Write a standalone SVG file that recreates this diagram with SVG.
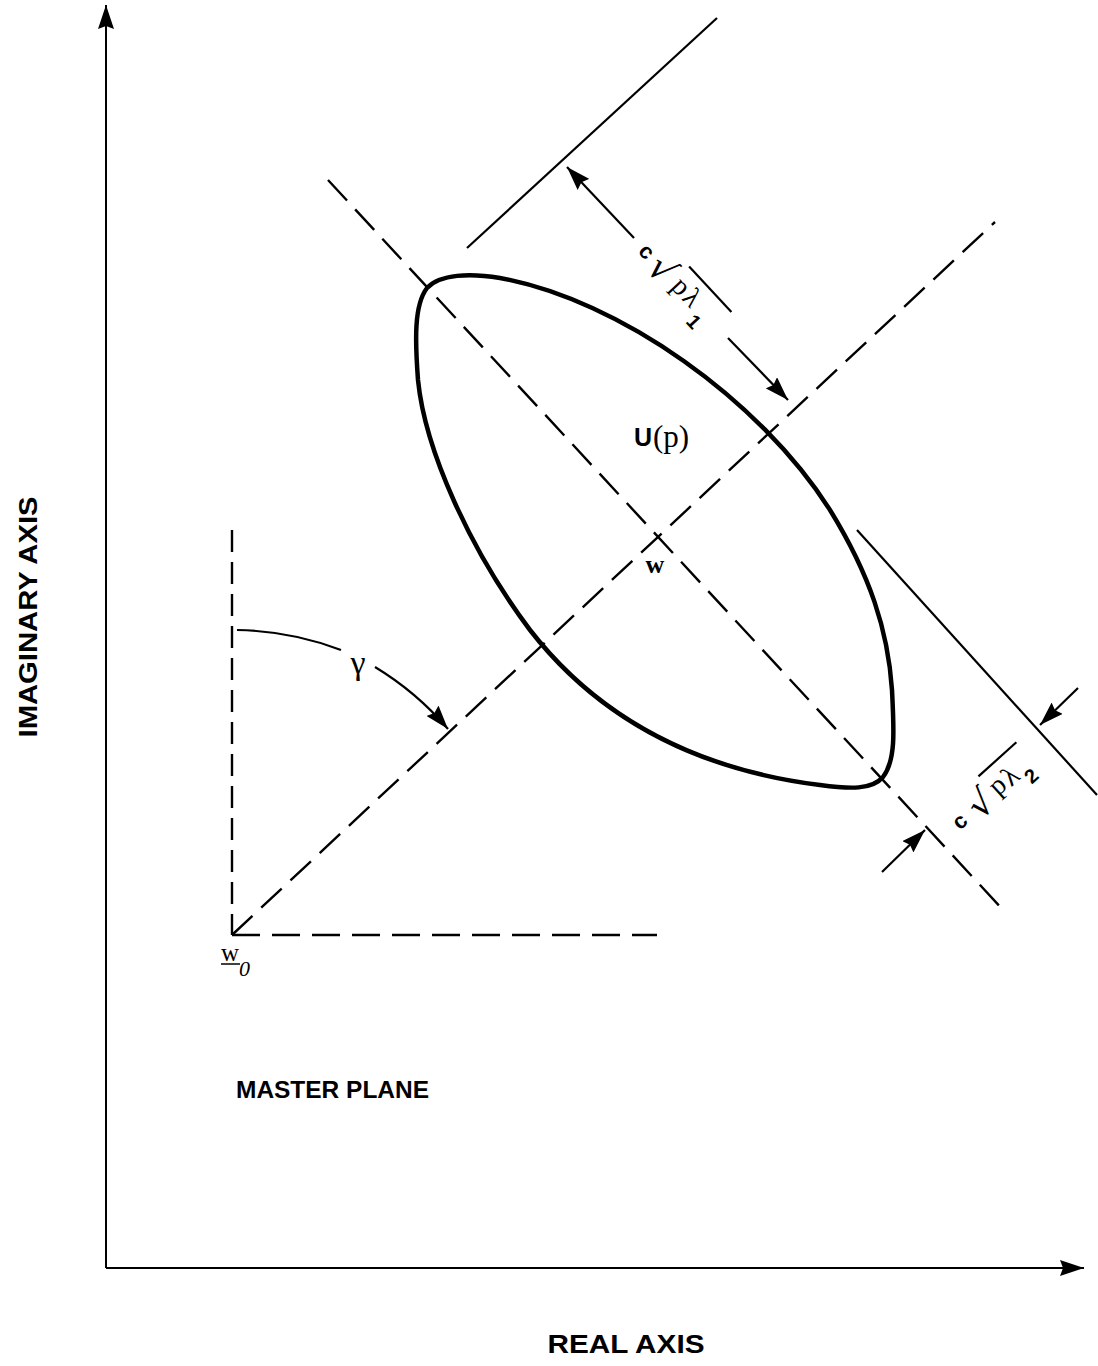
<svg xmlns="http://www.w3.org/2000/svg" width="1098" height="1366" viewBox="0 0 1098 1366">
<style>
.ax{stroke:#000;stroke-width:2;fill:none}
.dash{stroke:#000;stroke-width:2.4;fill:none;stroke-dasharray:28 12}
.solid{stroke:#000;stroke-width:2.2;fill:none}
.sans{font-family:"Liberation Sans",Arial,sans-serif;font-weight:bold;fill:#000}
.serif{font-family:"Liberation Serif","Times New Roman",serif;fill:#000}
</style>
<defs>
<marker id="ah" viewBox="0 0 24 16" refX="24" refY="8" markerWidth="24" markerHeight="16" markerUnits="userSpaceOnUse" orient="auto">
<path d="M0,0 L24,8 L0,16 L3,8 Z" fill="#000"/>
</marker>
</defs>
<rect width="1098" height="1366" fill="#fff"/>
<g id="axes">
<line class="ax" x1="106" y1="1268" x2="106" y2="5" marker-end="url(#ah)"/>
<line class="ax" x1="106" y1="1268" x2="1084" y2="1268" marker-end="url(#ah)"/>
<text class="sans" font-size="25" x="626" y="1353" text-anchor="middle" textLength="157" lengthAdjust="spacingAndGlyphs">REAL AXIS</text>
<text class="sans" font-size="25" transform="translate(37,617) rotate(-90)" x="0" y="0" text-anchor="middle" textLength="241" lengthAdjust="spacingAndGlyphs">IMAGINARY AXIS</text>
</g>
<g id="connectors">
<line class="dash" x1="232" y1="530" x2="232" y2="935" style="stroke-dasharray:22 10"/>
<line class="dash" x1="232" y1="935" x2="657" y2="935"/>
<line class="dash" x1="232" y1="935" x2="995" y2="222"/>
<line class="dash" x1="328" y1="180" x2="1005" y2="912"/>
<line class="solid" x1="467" y1="248" x2="717" y2="18"/>
<line class="solid" x1="857" y1="530" x2="1097" y2="795"/>
<line class="solid" x1="634" y1="238" x2="567" y2="167" marker-end="url(#ah)"/>
<line class="solid" x1="728" y1="338" x2="788" y2="400" marker-end="url(#ah)"/>
<line class="solid" x1="1078" y1="688" x2="1040" y2="725" marker-end="url(#ah)"/>
<line class="solid" x1="882" y1="872" x2="925" y2="830" marker-end="url(#ah)"/>
<path class="solid" d="M237,630 A305,305 0 0 1 341,650"/>
<path class="solid" d="M375,667 A300,300 0 0 1 448,729" marker-end="url(#ah)"/>
</g>
<g id="region">
<path d="M427,288 C440,274 470,273 500,278 C620,300 760,400 830,510 C870,575 888,630 892,690 C894,730 896,760 883,777 C872,790 850,789 820,785 C700,770 600,720 530,630 C470,550 425,450 418,380 C415,340 414,305 427,288 Z" fill="none" stroke="#000" stroke-width="4.5"/>
<text class="sans" font-size="25" x="634" y="446">U</text>
<text class="serif" font-size="31" x="653" y="447">(p)</text>
</g>
<g id="center-w">
<text class="serif" font-size="26" font-weight="bold" x="655" y="573" text-anchor="middle">w</text>
</g>
<g id="origin-w0">
<text class="serif" font-size="25" x="221" y="961">w</text>
<line x1="221" y1="964" x2="240" y2="964" stroke="#000" stroke-width="1.5"/>
<text class="serif" font-size="22" font-style="italic" x="239" y="976">0</text>
</g>
<g id="gamma">
<text class="serif" font-size="34" x="358" y="674" text-anchor="middle">γ</text>
</g>
<g id="label-lambda1" transform="translate(640,255) rotate(47)">
<text class="sans" font-size="22" x="-4" y="0">c</text>
<text font-family="DejaVu Sans,sans-serif" font-size="36" x="14" y="6">√</text>
<line x1="42" y1="-28" x2="104" y2="-28" stroke="#000" stroke-width="2.2"/>
<text class="serif" font-size="28" x="44" y="0">p</text>
<text class="serif" font-size="28" x="60" y="0">λ</text>
<text class="sans" font-size="20" font-weight="normal" x="80" y="13">1</text>
</g>
<g id="label-lambda2" transform="translate(963,828) rotate(-42)">
<text class="sans" font-size="22" x="-4" y="0">c</text>
<text font-family="DejaVu Sans,sans-serif" font-size="36" x="18" y="6">√</text>
<line x1="46" y1="-28" x2="97" y2="-28" stroke="#000" stroke-width="2.2"/>
<text class="serif" font-size="28" x="47" y="0">p</text>
<text class="serif" font-size="28" x="63" y="2">λ</text>
<text class="sans" font-size="20" x="80" y="14">2</text>
</g>
<g id="master-plane">
<text class="sans" font-size="24" x="236" y="1098" textLength="193" lengthAdjust="spacingAndGlyphs">MASTER PLANE</text>
</g>
</svg>
